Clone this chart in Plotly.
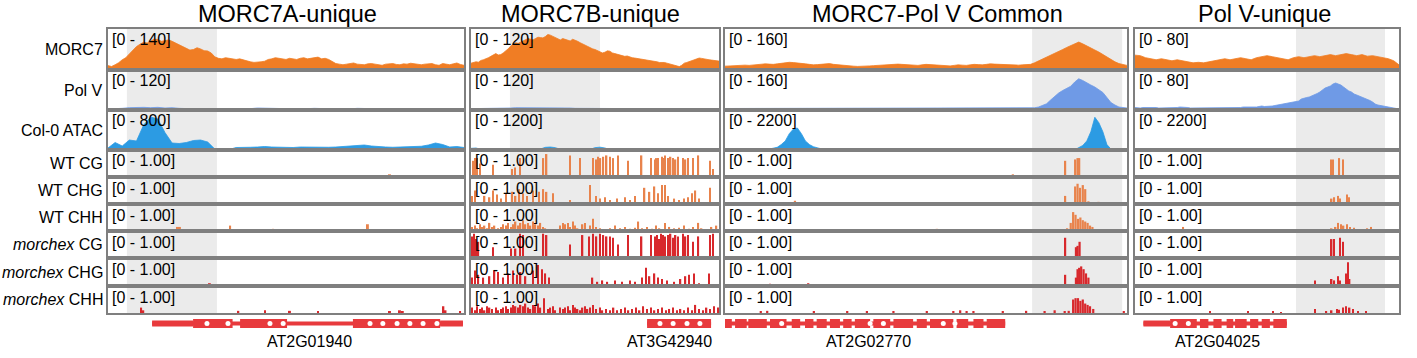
import plotly.graph_objects as go

W, H = 1417, 358

# ---------------- text ----------------
PANEL_TITLES = ["MORC7A-unique", "MORC7B-unique", "MORC7-Pol V Common", "Pol V-unique"]
TRACK_LABELS = ["MORC7", "Pol V", "Col-0 ATAC", "WT CG", "WT CHG", "WT CHH",
                "<i>morchex</i> CG", "<i>morchex</i> CHG", "<i>morchex</i> CHH"]
GENE_NAMES = ["AT2G01940", "AT3G42940", "AT2G02770", "AT2G04025"]
GENE_LABEL_POS = [56.5, 80.0, 35.8, 31.4]   # position of gene name (% of window)

# ---------------- data ----------------
POS1 = list(range(0, 101))                  # position in window (%), fine grid
POS2 = list(range(0, 101, 2))               # position in window (%), coarse grid

MORC7_RANGE = [140, 120, 160, 80]
POLV_RANGE = [120, 120, 160, 80]
ATAC_RANGE = [800, 1200, 2200, 2200]
METH_RANGE = 1.00

SHADE = [(5.3, 30.6), (15.7, 52.0), (76.4, 98.8), (61.0, 94.7)]

MORC7_P1 = [15, 12, 18, 25, 35, 42, 55, 68, 80, 88, 95, 92, 100, 106, 104, 98, 100, 103, 98, 92,
            85, 80, 75, 68, 70, 76, 72, 66, 65, 58, 45, 40, 38, 42, 40, 38, 36, 38, 34, 30,
            28, 26, 26, 28, 30, 36, 38, 42, 40, 37, 36, 40, 38, 36, 40, 42, 38, 40, 42, 44,
            38, 40, 36, 30, 22, 20, 18, 20, 22, 24, 20, 18, 18, 21, 22, 20, 18, 16, 20, 22,
            22, 19, 18, 21, 20, 23, 22, 19, 18, 20, 20, 22, 18, 16, 22, 20, 18, 21, 24, 19, 16]
MORC7_P2 = [20, 22, 24, 23, 28, 30, 32, 36, 40, 44, 48, 44, 45, 50, 55, 62, 70, 76, 80, 78,
            82, 86, 88, 92, 90, 88, 92, 96, 95, 94, 98, 104, 102, 98, 95, 90, 88, 92, 90, 86,
            85, 90, 88, 84, 80, 76, 72, 68, 65, 62, 60, 57, 55, 50, 52, 56, 55, 50, 48, 46,
            45, 42, 40, 41, 38, 36, 35, 34, 33, 31, 30, 29, 28, 26, 25, 24, 22, 23, 22, 20,
            18, 15, 12, 10, 10, 14, 20, 22, 25, 28, 30, 33, 35, 34, 32, 31, 30, 29, 28, 27, 26]
MORC7_P3 = [15, 16, 18, 19, 20, 19, 18, 20, 22, 23, 24, 23, 22, 24, 26, 29, 30, 29, 28, 26,
            24, 22, 20, 21, 22, 24, 25, 22, 20, 19, 18, 16, 15, 14, 14, 15, 16, 17, 18, 20,
            22, 23, 24, 23, 22, 21, 20, 19, 18, 20, 22, 21, 20, 19, 18, 17, 16, 18, 20, 19,
            18, 20, 22, 21, 20, 22, 24, 23, 22, 21, 20, 19, 18, 19, 20, 21, 22, 28, 35, 42,
            50, 58, 66, 72, 80, 88, 95, 104, 109, 102, 95, 86, 78, 70, 60, 50, 40, 32, 25, 20, 18]
MORC7_P4 = [29, 28, 24, 22, 20, 22, 20, 18, 20, 18, 16, 14, 15, 14, 16, 18, 20, 22, 20, 22,
            24, 22, 20, 24, 26, 28, 26, 24, 22, 20, 24, 26, 24, 26, 28, 26, 28, 30, 28, 30,
            32, 30, 28, 30, 27, 28, 26, 25, 22, 18, 10]

POLV_P1 = [3, 3, 5, 7, 8, 8, 7, 8, 6, 7, 5, 4, 4, 3, 4, 4, 3, 5, 4, 3,
           4, 6, 5, 4, 3, 4, 4, 3, 4, 5, 4, 3, 3, 4, 3, 5, 4, 3, 4, 3,
           3, 4, 3, 3, 4, 3, 4, 3, 3, 4, 3]
POLV_P2 = [4, 4, 5, 4, 5, 4, 4, 5, 6, 7, 7, 8, 8, 7, 8, 8, 7, 7, 8, 6,
           6, 5, 5, 4, 4, 3, 3, 4, 3, 3, 4, 3, 3, 4, 3, 3, 3, 4, 3, 4,
           3, 3, 3, 4, 4, 3, 4, 3, 3, 4, 3]
POLV_P3 = [6, 6, 6, 7, 7, 6, 6, 7, 7, 8, 8, 7, 7, 6, 6, 7, 7, 8, 8, 7,
           6, 7, 7, 8, 8, 7, 6, 7, 7, 6, 6, 7, 7, 8, 8, 7, 6, 7, 7, 8,
           8, 7, 6, 6, 6, 7, 7, 8, 8, 7, 7, 6, 6, 7, 7, 8, 8, 7, 6, 6,
           6, 7, 7, 6, 6, 7, 7, 8, 8, 7, 7, 6, 6, 7, 7, 8, 8, 9, 12, 18,
           25, 40, 55, 68, 78, 88, 95, 112, 125, 118, 108, 100, 92, 82, 70, 50, 30, 20, 12, 10, 8]
POLV_P4 = [5, 4, 4, 5, 5, 6, 6, 5, 5, 4, 4, 5, 5, 4, 4, 5, 5, 6, 6, 5,
           5, 4, 4, 5, 5, 4, 4, 5, 5, 4, 4, 5, 5, 4, 4, 5, 5, 4, 4, 5,
           5, 6, 6, 5, 5, 6, 6, 7, 8, 7, 7, 8, 8, 9, 10, 11, 12, 13, 14, 15,
           16, 17, 18, 22, 24, 25, 26, 28, 30, 33, 36, 40, 44, 46, 48, 52, 54, 52, 50, 46,
           42, 38, 36, 32, 30, 28, 26, 24, 22, 19, 16, 12, 10, 9, 8, 6, 5, 4, 4, 3, 3]

ATAC_P1 = [40, 150, 80, 200, 180, 500, 660, 620, 350, 140, 130, 150, 190, 200, 160, 20, 5, 10, 50, 60,
           55, 60, 70, 60, 55, 60, 50, 60, 55, 50, 60, 55, 60, 70, 80, 95, 100, 80, 65, 60,
           55, 60, 70, 60, 75, 100, 140, 110, 60, 70, 50]
ATAC_P2 = [50, 60, 20, 15, 20, 40, 20, 15, 20, 25, 15, 10, 20, 25, 30, 80, 90, 70, 20, 15,
           20, 25, 20, 15, 20, 70, 85, 60, 15, 10, 15, 20, 15, 25, 40, 20, 15, 10, 30, 35,
           40, 30, 35, 20, 15, 20, 10, 15, 20, 40, 30]
ATAC_P3 = [30, 25, 20, 22, 25, 30, 40, 45, 50, 40, 35, 50, 100, 150, 300, 500, 900, 1150, 1210, 900,
           500, 300, 180, 110, 60, 40, 30, 25, 25, 22, 20, 30, 40, 35, 30, 28, 25, 22, 20, 25,
           30, 40, 45, 35, 30, 28, 25, 20, 20, 25, 30, 28, 25, 30, 35, 32, 30, 40, 50, 45,
           40, 30, 25, 28, 30, 35, 40, 35, 30, 25, 20, 18, 15, 12, 10, 8, 5, 5, 5, 5,
           5, 5, 5, 5, 5, 5, 5, 10, 150, 250, 500, 1000, 1800, 1500, 1000, 300, 50, 10, 5, 5, 5]
ATAC_P4 = [0, 0, 0, 0, 0, 0, 0, 0, 0, 0, 0, 0, 0, 0, 0, 0, 0, 0, 0, 10,
           30, 20, 40, 45, 30, 20, 10, 0, 10, 0, 20, 15, 10, 0, 0, 0, 0, 0, 0, 0,
           0, 0, 0, 0, 0, 0, 0, 0, 0, 0, 0]

# methylation: (position %, level)
WT_CG_P1 = [(79.2, 0.10)]
WT_CHG_P1 = [(67.4, 0.05)]
WT_CHH_P1 = [(5.7, 0.03), (19.4, 0.15), (20.2, 0.15), (25.0, 0.04), (34.3, 0.20), (46.4, 0.08),
             (58.6, 0.03), (73.0, 0.25), (81.0, 0.05), (83.4, 0.04), (95.0, 0.06)]
MX_CG_P1 = [(61.0, 0.02)]
MX_CHG_P1 = [(28.6, 0.10), (71.7, 0.05), (91.4, 0.06)]
MX_CHH_P1 = [(9.3, 0.20), (9.9, 0.10), (36.6, 0.08), (44.1, 0.10), (51.1, 0.08), (59.0, 0.05),
             (79.2, 0.05), (82.0, 0.10), (82.8, 0.05), (94.2, 0.25), (94.8, 0.10), (98.9, 0.05)]

WT_CG_P2 = [(1.0, 0.6), (1.6, 0.7), (2.4, 0.7), (3.6, 0.5), (8.9, 0.45), (16.5, 0.3), (17.7, 0.35),
            (19.8, 0.7), (29.2, 0.7), (30.5, 0.85), (39.9, 0.8), (43.9, 0.7), (49.3, 0.7), (50.6, 0.65),
            (51.3, 0.75), (52.2, 0.7), (53.4, 0.75), (54.7, 0.8), (56.0, 0.75), (57.4, 0.7), (59.4, 0.8),
            (63.4, 0.6), (68.8, 0.8), (72.5, 0.7), (74.2, 0.65), (74.8, 0.7), (75.5, 0.7), (76.9, 0.75),
            (77.5, 0.7), (78.2, 0.8), (79.5, 0.7), (80.5, 0.75), (81.5, 0.7), (82.5, 0.65), (83.5, 0.75),
            (85.6, 0.7), (86.5, 0.65), (87.6, 0.7), (89.6, 0.7), (91.7, 0.8), (96.4, 0.6), (97.7, 0.3)]
WT_CHG_P2 = [(0.5, 0.3), (1.5, 0.5), (5.5, 0.3), (7.5, 0.25), (9.0, 0.5), (10.5, 0.35), (12.0, 0.2),
             (14.0, 0.4), (16.5, 0.45), (18.0, 0.3), (19.5, 0.55), (21.0, 0.4), (22.5, 0.3), (25.0, 0.5),
             (27.5, 0.45), (29.2, 0.55), (30.5, 0.45), (33.0, 0.4), (40.0, 0.15), (48.0, 0.7), (50.5, 0.3),
             (52.0, 0.2), (54.0, 0.25), (56.0, 0.15), (59.0, 0.2), (62.0, 0.25), (64.0, 0.15), (66.0, 0.3),
             (70.0, 0.6), (72.0, 0.45), (74.0, 0.65), (75.5, 0.4), (77.0, 0.7), (78.2, 0.7), (79.5, 0.3),
             (82.0, 0.2), (84.0, 0.15), (86.0, 0.2), (87.6, 0.25), (89.0, 0.4), (90.5, 0.5), (92.0, 0.2),
             (96.4, 0.6)]
WT_CHH_P2 = [(0.5, 0.15), (1.5, 0.2), (2.5, 0.1), (3.5, 0.25), (4.5, 0.15), (5.5, 0.2), (6.5, 0.1),
             (7.5, 0.3), (8.5, 0.15), (9.5, 0.2), (11, 0.1), (12, 0.15), (13, 0.25), (14, 0.2), (15, 0.3),
             (16, 0.15), (17, 0.25), (18, 0.35), (19, 0.2), (20, 0.3), (21, 0.4), (22, 0.25), (23, 0.3),
             (24, 0.2), (25, 0.35), (26, 0.25), (27, 0.2), (28, 0.3), (29, 0.15), (30, 0.1), (31, 0.05),
             (36, 0.2), (37, 0.3), (38, 0.25), (39, 0.3), (40, 0.15), (41, 0.35), (42, 0.2), (43, 0.1),
             (45, 0.25), (46, 0.3), (48, 0.2), (49.3, 0.45), (50.5, 0.15), (52, 0.1), (54, 0.05), (56, 0.1),
             (58, 0.2), (60, 0.1), (62, 0.15), (64, 0.08), (66, 0.12), (67.5, 0.35), (69, 0.1), (71, 0.15),
             (73, 0.08), (74.5, 0.2), (76, 0.1), (78.2, 0.3), (80, 0.15), (82, 0.1), (84, 0.12), (86, 0.2),
             (88, 0.08), (89.5, 0.15), (91.7, 0.3), (93, 0.1), (95, 0.05), (97, 0.15), (99, 0.2)]
MX_CG_P2 = [(0.5, 0.8), (1.2, 0.9), (2.0, 0.7), (3.0, 0.6), (9.0, 0.4), (16.0, 0.35), (18.0, 0.35),
            (19.8, 0.9), (21.0, 0.85), (29.2, 0.9), (30.5, 0.85), (39.9, 0.5), (45.0, 0.85), (47.5, 0.8),
            (49.3, 0.9), (50.6, 0.8), (52.0, 0.9), (53.4, 0.85), (54.7, 0.8), (56.0, 0.8), (57.4, 0.75),
            (59.4, 0.5), (63.4, 0.85), (68.8, 0.8), (72.5, 0.85), (74.2, 0.8), (75.0, 0.85), (75.7, 0.7),
            (76.5, 0.9), (77.5, 0.85), (78.2, 0.8), (79.5, 0.85), (80.5, 0.9), (81.5, 0.75), (82.5, 0.85),
            (83.5, 0.8), (85.6, 0.9), (86.5, 0.8), (87.6, 0.85), (89.6, 0.6), (91.7, 0.8), (96.4, 0.85),
            (97.7, 0.9)]
MX_CHG_P2 = [(0.5, 0.3), (1.5, 0.55), (3.0, 0.4), (5.0, 0.3), (7.5, 0.35), (9.5, 0.55), (11.0, 0.5),
             (13.0, 0.3), (15.0, 0.45), (17.0, 0.55), (18.5, 0.4), (20.0, 0.5), (22.0, 0.35), (25.0, 0.55),
             (27.0, 0.75), (28.5, 0.6), (30.0, 0.45), (31.5, 0.3), (40.0, 0.05), (49.0, 0.3), (51.0, 0.15),
             (53.0, 0.2), (55.0, 0.15), (58.0, 0.2), (61.0, 0.15), (64.0, 0.2), (66.0, 0.15), (69.0, 0.3),
             (70.5, 0.65), (72.0, 0.35), (74.0, 0.45), (75.5, 0.3), (77.0, 0.25), (79.0, 0.2), (82.0, 0.15),
             (84.5, 0.25), (86.5, 0.35), (88.0, 0.4), (90.0, 0.45), (92.0, 0.1), (96.0, 0.45)]
MX_CHH_P2 = [(0.5, 0.2), (1.5, 0.1), (2.5, 0.25), (3.5, 0.15), (4.5, 0.2), (5.5, 0.1), (6.5, 0.25),
             (7.5, 0.2), (8.5, 0.15), (10, 0.2), (11, 0.1), (12, 0.15), (13, 0.2), (14, 0.25), (15, 0.15),
             (16, 0.2), (17, 0.3), (18, 0.25), (19, 0.2), (20, 0.3), (21, 0.25), (22, 0.35), (23, 0.2),
             (24, 0.15), (25, 0.3), (26, 0.25), (27, 0.35), (28, 0.2), (29.5, 0.55), (31, 0.15), (32, 0.2),
             (33, 0.25), (34, 0.1), (36, 0.2), (37, 0.15), (38, 0.2), (39, 0.25), (40, 0.1), (41, 0.3),
             (42, 0.2), (43, 0.15), (44, 0.1), (45, 0.2), (46, 0.25), (47, 0.15), (48, 0.2), (49.3, 0.3),
             (50.5, 0.15), (52, 0.2), (53, 0.1), (54.5, 0.15), (56, 0.1), (57.5, 0.2), (59, 0.1),
             (60.5, 0.15), (62, 0.2), (63.5, 0.1), (65, 0.15), (66.5, 0.2), (68, 0.1), (69.5, 0.25),
             (71, 0.15), (72.5, 0.2), (74, 0.1), (75.5, 0.15), (77, 0.2), (78.5, 0.1), (80, 0.15),
             (81.5, 0.2), (83, 0.1), (84.5, 0.15), (86, 0.1), (87.5, 0.2), (89, 0.1), (90.5, 0.3),
             (92, 0.15), (93.5, 0.1), (95, 0.2), (96.5, 0.15), (98, 0.25), (99.5, 0.2)]

WT_CG_P3 = [(71.6, 0.1), (84.6, 0.6), (87.1, 0.65), (87.7, 0.7), (88.1, 0.7)]
WT_CHG_P3 = [(17.4, 0.12), (84.6, 0.3), (87.1, 0.65), (87.7, 0.75), (88.3, 0.6), (89.0, 0.7),
             (89.6, 0.55), (90.4, 0.1), (92.9, 0.08)]
WT_CHH_P3 = [(5.8, 0.04), (10.8, 0.05), (19.1, 0.06), (25.3, 0.04), (33.6, 0.05), (42.3, 0.06),
             (46.0, 0.03), (49.8, 0.05), (52.7, 0.08), (56.8, 0.04), (63.4, 0.06), (71.6, 0.03),
             (77.9, 0.05), (79.5, 0.04), (82.4, 0.03), (85.1, 0.1), (86.0, 0.3), (86.6, 0.7),
             (87.2, 0.6), (87.8, 0.45), (88.4, 0.5), (89.0, 0.4), (89.6, 0.35), (90.2, 0.3),
             (90.8, 0.2), (91.4, 0.15), (92.9, 0.05), (94.5, 0.04)]
MX_CG_P3 = [(35.6, 0.03), (84.6, 0.75), (87.3, 0.4), (87.7, 0.45), (88.2, 0.6)]
MX_CHG_P3 = [(11.2, 0.08), (20.7, 0.1), (35.8, 0.05), (63.2, 0.06), (75.6, 0.05), (84.6, 0.4),
             (87.3, 0.3), (87.7, 0.6), (88.1, 0.65), (88.6, 0.7), (89.2, 0.6), (89.8, 0.45), (90.4, 0.3)]
MX_CHH_P3 = [(8.9, 0.05), (10.5, 0.08), (22.1, 0.04), (30.4, 0.05), (35.3, 0.04), (41.9, 0.06),
             (50.2, 0.05), (56.8, 0.07), (58.5, 0.1), (60.1, 0.06), (61.8, 0.05), (69.1, 0.04),
             (74.9, 0.08), (79.5, 0.05), (82.0, 0.1), (84.5, 0.05), (85.5, 0.08), (86.6, 0.5),
             (87.2, 0.55), (87.8, 0.55), (88.4, 0.45), (89.0, 0.5), (89.6, 0.35), (90.2, 0.3),
             (90.8, 0.25), (91.6, 0.15), (99.2, 0.05)]

WT_CG_P4 = [(70.7, 0.02), (74.2, 0.65), (75.1, 0.65), (77.4, 0.7), (78.9, 0.65)]
WT_CHG_P4 = [(74.5, 0.2), (75.5, 0.25), (77.0, 0.3), (77.6, 0.2), (80.2, 0.35), (81.0, 0.25), (89.6, 0.05)]
WT_CHH_P4 = [(18.3, 0.15), (37.9, 0.03), (45.5, 0.03), (65.0, 0.03), (67.0, 0.03), (69.0, 0.05),
             (72.8, 0.05), (74.5, 0.1), (76.0, 0.15), (77.0, 0.3), (78.0, 0.25), (79.0, 0.2),
             (80.2, 0.25), (81.5, 0.15), (83.0, 0.12), (85.0, 0.05), (88.0, 0.1), (89.5, 0.15)]
MX_CG_P4 = [(74.5, 0.7), (75.4, 0.7), (77.6, 0.75), (78.9, 0.6)]
MX_CHG_P4 = [(68.1, 0.2), (74.5, 0.25), (75.5, 0.2), (77.0, 0.35), (77.6, 0.2), (80.0, 0.45),
             (80.6, 0.85), (81.3, 0.25)]
MX_CHH_P4 = [(28.4, 0.05), (42.9, 0.04), (52.3, 0.05), (55.4, 0.03), (68.1, 0.15), (72.5, 0.05),
             (74.5, 0.1), (76.5, 0.15), (77.3, 0.12), (78.8, 0.2), (80.0, 0.25), (81.3, 0.2),
             (82.5, 0.15), (84.5, 0.05), (87.5, 0.05)]

# gene models (% of window)
GENE_SPAN = [(12.4, 99.7), (71.0, 96.8), (0.0, 69.7), (3.2, 57.5)]
GENE_UTR = [[(12.4, 23.9), (93.3, 99.7)], [], [], [(3.2, 13.3)]]
GENE_EXONS = [
    [(23.9, 35.0), (37.1, 50.3), (68.8, 93.3)],
    [(71.0, 96.8)],
    [(0.0, 1.7), (2.5, 5.4), (5.8, 10.4), (11.2, 15.3), (16.6, 18.7), (19.9, 22.0), (22.8, 25.3),
     (26.1, 28.6), (29.4, 31.5), (32.3, 36.1), (36.9, 41.1), (41.9, 46.8), (47.7, 50.2),
     (51.0, 56.8), (57.6, 60.5), (61.8, 64.3), (65.1, 69.7)],
    [(13.3, 23.4), (24.6, 27.8), (29.7, 32.8), (34.7, 37.2), (37.9, 42.3), (43.6, 46.7),
     (48.0, 51.1), (52.4, 57.5)],
]
GENE_DOTS = [
    [27.8, 33.7, 45.5, 49.2, 73.6, 77.2, 81.2, 84.8, 88.5, 92.4],
    [76.2, 81.5, 87.1, 92.3],
    [14.1, 36.1, 39.4, 54.3, 57.2],
    [15.2, 20.2],
]

COVERAGE = [
    [(POS1, MORC7_P1), (POS2, POLV_P1), (POS2, ATAC_P1)],
    [(POS1, MORC7_P2), (POS2, POLV_P2), (POS2, ATAC_P2)],
    [(POS1, MORC7_P3), (POS1, POLV_P3), (POS1, ATAC_P3)],
    [(POS2, MORC7_P4), (POS1, POLV_P4), (POS2, ATAC_P4)],
]
COV_RANGES = [[MORC7_RANGE[i], POLV_RANGE[i], ATAC_RANGE[i]] for i in range(4)]
METH = [
    [WT_CG_P1, WT_CHG_P1, WT_CHH_P1, MX_CG_P1, MX_CHG_P1, MX_CHH_P1],
    [WT_CG_P2, WT_CHG_P2, WT_CHH_P2, MX_CG_P2, MX_CHG_P2, MX_CHH_P2],
    [WT_CG_P3, WT_CHG_P3, WT_CHH_P3, MX_CG_P3, MX_CHG_P3, MX_CHH_P3],
    [WT_CG_P4, WT_CHG_P4, WT_CHH_P4, MX_CG_P4, MX_CHG_P4, MX_CHH_P4],
]

# ---------------- style / layout ----------------
FONT = "Liberation Sans, Arial, Helvetica, sans-serif"
C_MORC7 = "#F07D24"
C_POLV = "#6F9AE6"
C_ATAC = "#2C9BE3"
C_WT = "#E8834C"
C_MX = "#D8282C"
C_GENE = "#E83A3D"
C_BORDER = "#7F7F7F"
C_SHADE = "#EBEBEB"
COV_COLORS = [C_MORC7, C_POLV, C_ATAC]
METH_COLORS = [C_WT, C_WT, C_WT, C_MX, C_MX, C_MX]

PANEL_PX = [(108, 464), (471, 719), (725, 1127), (1135, 1399)]
TITLE_X = [287, 590, 937, 1264]
ROW_TOP = [29, 70, 110, 150, 177, 204, 231, 258, 286]
ROW_BOT = [70, 110, 150, 177, 204, 231, 258, 286, 313]
GENE_ROW = (316, 331)


def fx(px):
    return px / W


def fy(py):
    return (H - py) / H


def axname(i):
    return "" if i == 1 else str(i)


fig = go.Figure()
layout = {}
annotations = []
shapes = []

for p in range(4):
    x0p, x1p = PANEL_PX[p]
    for r in range(10):
        idx = p * 10 + r + 1
        an = axname(idx)
        if r < 9:
            yt, yb = ROW_TOP[r], ROW_BOT[r]
            yr = [0, COV_RANGES[p][r]] if r < 3 else [0, METH_RANGE]
            line = dict(showline=True, linecolor=C_BORDER, linewidth=2, mirror=True)
        else:
            yt, yb = GENE_ROW
            yr = [-1, 1]
            line = dict(showline=False)
        layout["xaxis" + an] = dict(domain=[fx(x0p), fx(x1p)], range=[0, 100], anchor="y" + an,
                                   showticklabels=False, ticks="", showgrid=False, zeroline=False,
                                   fixedrange=True, **line)
        layout["yaxis" + an] = dict(domain=[fy(yb), fy(yt)], range=yr, anchor="x" + an,
                                   showticklabels=False, ticks="", showgrid=False, zeroline=False,
                                   fixedrange=True, **line)
        xa, ya = "x" + an, "y" + an
        if r < 3:
            xs, ys = COVERAGE[p][r]
            fig.add_trace(go.Scatter(x=xs, y=ys, mode="lines", fill="tozeroy",
                                     line=dict(color=COV_COLORS[r], width=0.8),
                                     fillcolor=COV_COLORS[r], xaxis=xa, yaxis=ya,
                                     hoverinfo="skip", showlegend=False))
        elif r < 9:
            data = METH[p][r - 3]
            fig.add_trace(go.Bar(x=[d[0] for d in data], y=[d[1] for d in data], width=0.55,
                                 marker=dict(color=METH_COLORS[r - 3], line=dict(width=0)),
                                 xaxis=xa, yaxis=ya, hoverinfo="skip", showlegend=False))
        else:
            gs, ge = GENE_SPAN[p]
            fig.add_trace(go.Scatter(x=[gs, ge], y=[0, 0], mode="lines",
                                     line=dict(color=C_GENE, width=4), xaxis=xa, yaxis=ya,
                                     hoverinfo="skip", showlegend=False))
            ux, uy = [], []
            for a, b in GENE_UTR[p]:
                ux += [a, b, None]
                uy += [0, 0, None]
            if ux:
                fig.add_trace(go.Scatter(x=ux, y=uy, mode="lines",
                                         line=dict(color=C_GENE, width=6), xaxis=xa, yaxis=ya,
                                         hoverinfo="skip", showlegend=False))
            ex, ey = [], []
            for a, b in GENE_EXONS[p]:
                ex += [a, b, None]
                ey += [0, 0, None]
            fig.add_trace(go.Scatter(x=ex, y=ey, mode="lines",
                                     line=dict(color=C_GENE, width=9), xaxis=xa, yaxis=ya,
                                     hoverinfo="skip", showlegend=False))
            fig.add_trace(go.Scatter(x=GENE_DOTS[p], y=[0] * len(GENE_DOTS[p]), mode="markers",
                                     marker=dict(color="white", size=5, line=dict(width=0)),
                                     xaxis=xa, yaxis=ya, hoverinfo="skip", showlegend=False))
            annotations.append(dict(x=GENE_LABEL_POS[p], xref=xa, y=fy(341), yref="paper",
                                    text=GENE_NAMES[p], showarrow=False, xanchor="center",
                                    yanchor="middle", font=dict(family=FONT, size=16, color="black")))

    # shaded region
    shapes.append(dict(type="rect", xref="x" + axname(p * 10 + 1), yref="paper",
                       x0=SHADE[p][0], x1=SHADE[p][1], y0=fy(ROW_BOT[-1]), y1=fy(ROW_TOP[0]),
                       fillcolor=C_SHADE, line=dict(width=0), layer="below"))
    # data range labels
    for r in range(9):
        if r < 3:
            txt = "[0 - %d]" % COV_RANGES[p][r]
        else:
            txt = "[0 - %.2f]" % METH_RANGE
        annotations.append(dict(x=fx(x0p + 1.5), y=fy(ROW_TOP[r] + 0.5), xref="paper", yref="paper",
                                text=txt, showarrow=False, xanchor="left", yanchor="top",
                                font=dict(family=FONT, size=16, color="black")))
    # panel titles
    annotations.append(dict(x=fx(TITLE_X[p]), y=fy(14), xref="paper", yref="paper",
                            text=PANEL_TITLES[p], showarrow=False, xanchor="center", yanchor="middle",
                            font=dict(family=FONT, size=23.5, color="black")))

# track labels
for r in range(9):
    annotations.append(dict(x=fx(105), y=fy((ROW_TOP[r] + ROW_BOT[r]) / 2), xref="paper", yref="paper",
                            text=TRACK_LABELS[r], showarrow=False, xanchor="right", yanchor="middle",
                            font=dict(family=FONT, size=16, color="black")))

fig.update_layout(**layout)
fig.update_layout(width=W, height=H, margin=dict(l=0, r=0, t=0, b=0),
                  paper_bgcolor="white", plot_bgcolor="rgba(0,0,0,0)",
                  showlegend=False, barmode="overlay",
                  annotations=annotations, shapes=shapes)

fig.write_html("out.html", config={"displayModeBar": False},
               post_script="document.body.style.margin='0px';")
